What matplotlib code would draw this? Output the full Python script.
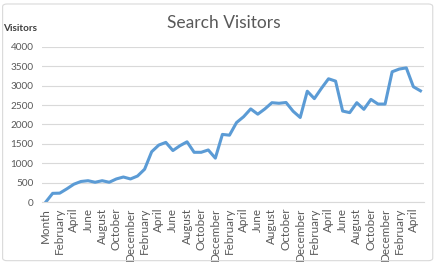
import matplotlib.pyplot as plt
from matplotlib.patches import FancyBboxPatch

months = ["January", "February", "March", "April", "May", "June", "July",
          "August", "September", "October", "November", "December"]
categories = ["Month"] + months * 4 + months[:5]
visitors = [0, 230, 235, 345, 465, 535, 555, 515, 555, 515,
            600, 650, 600, 675, 850, 1300, 1470, 1540, 1330, 1455,
            1555, 1285, 1285, 1345, 1135, 1745, 1725, 2050, 2200, 2400,
            2265, 2400, 2560, 2545, 2565, 2340, 2180, 2855, 2665, 2930,
            3175, 3115, 2345, 2305, 2560, 2390, 2645, 2525, 2525, 3355,
            3425, 3455, 2970, 2865]

plt.rcParams['font.family'] = ['Lato', 'DejaVu Sans']
grey = '#595959'

fig = plt.figure(figsize=(4.38, 2.66), dpi=100)
ax = fig.add_axes([0.096, 0.2395, 0.872, 0.585])

x = list(range(len(visitors)))
ax.plot(x, visitors, color='#5b9bd5', lw=2.2, solid_joinstyle='round')

ax.set_xlim(-0.5, len(visitors) - 0.5)
ax.set_ylim(0, 4000)
ax.set_yticks(range(0, 4001, 500))
ax.set_xticks(x[::2])
ax.set_xticklabels(categories[::2], rotation=90, fontsize=8.4, color=grey)
ax.tick_params(axis='y', labelsize=7.2, labelcolor=grey, length=0, pad=6)
ax.tick_params(axis='x', length=0, pad=4)
ax.grid(axis='y', color='#d9d9d9', lw=0.8)
ax.set_axisbelow(True)
for s in ['top', 'left', 'right']:
    ax.spines[s].set_visible(False)
ax.spines['bottom'].set_color('#d9d9d9')
ax.spines['bottom'].set_linewidth(0.8)

fig.text(0.512, 0.913, "Search Visitors", ha='center', va='center',
         fontsize=12.5, color=grey)
fig.text(0.008, 0.893, "Visitors", ha='left', va='center', fontsize=7.2,
         fontweight='bold', color='#404040')

fig.patches.append(FancyBboxPatch((0.006, 0.02), 0.982, 0.965,
                                  boxstyle='round,pad=0,rounding_size=0.01',
                                  transform=fig.transFigure, fill=False,
                                  ec='#d9d9d9', lw=0.8))

fig.savefig('out.png', dpi=100)
